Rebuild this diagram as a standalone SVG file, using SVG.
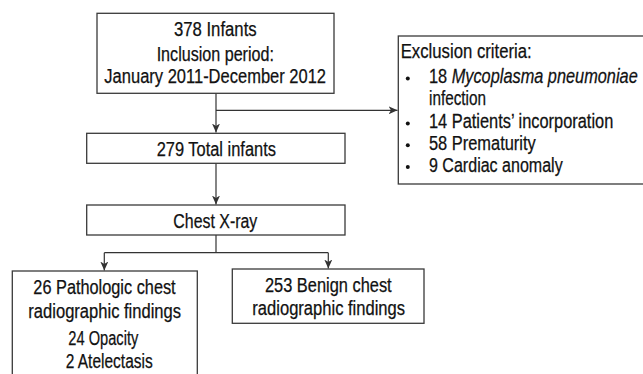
<svg xmlns="http://www.w3.org/2000/svg" width="643" height="374" viewBox="0 0 643 374">
<defs>
<style>
.box{fill:#fff;stroke:#3a3a3a;stroke-width:1.3}
.ln{fill:none;stroke:#333;stroke-width:1.2}
text{font-family:"Liberation Sans",Arial,sans-serif;font-size:19.5px;fill:#111;stroke:#111;stroke-width:0.25}
.c{text-anchor:middle}
</style>
<marker id="ah" markerUnits="userSpaceOnUse" markerWidth="10" markerHeight="8" refX="9" refY="4" orient="auto">
<path d="M0,0 L9,4 L0,8 L2.5,4 z" fill="#333"/>
</marker>
</defs>
<rect width="643" height="374" fill="#fff"/>
<g id="connectors">
<line class="ln" x1="216" y1="93.3" x2="216" y2="132.5" marker-end="url(#ah)"/>
<line class="ln" x1="216" y1="110.3" x2="397.5" y2="110.3" marker-end="url(#ah)"/>
<line class="ln" x1="216" y1="163.3" x2="216" y2="204.5" marker-end="url(#ah)"/>
<polyline class="ln" points="216,235 216,252.7"/>
<line class="ln" x1="104.3" y1="252.7" x2="328.3" y2="252.7"/>
<line class="ln" x1="104.3" y1="252.7" x2="104.3" y2="270.5" marker-end="url(#ah)"/>
<line class="ln" x1="328.3" y1="252.7" x2="328.3" y2="268.5" marker-end="url(#ah)"/>
</g>
<g id="n-infants">
<rect class="box" x="97" y="13.3" width="237" height="80"/>
<text class="c" x="215.3" y="36.3" textLength="82.7" lengthAdjust="spacingAndGlyphs">378 Infants</text>
<text class="c" x="215.3" y="60.7" textLength="117.3" lengthAdjust="spacingAndGlyphs">Inclusion period:</text>
<text class="c" x="215.2" y="82.9" textLength="221.7" lengthAdjust="spacingAndGlyphs">January 2011-December 2012</text>
</g>
<g id="n-exclusion">
<rect class="box" x="398.3" y="36" width="260" height="148"/>
<text x="400.7" y="58.3" textLength="131" lengthAdjust="spacingAndGlyphs">Exclusion criteria:</text>
<g fill="#111">
<circle cx="407.8" cy="78.6" r="2"/>
<circle cx="407.8" cy="123.6" r="2"/>
<circle cx="407.8" cy="145.3" r="2"/>
<circle cx="407.8" cy="167" r="2"/>
</g>
<text transform="translate(429 83.3) scale(0.84 1)" x="0" y="0" textLength="248.5" lengthAdjust="spacingAndGlyphs">18 <tspan font-style="italic">Mycoplasma pneumoniae</tspan></text>
<text x="429" y="104.8" textLength="57" lengthAdjust="spacingAndGlyphs">infection</text>
<text transform="translate(429 128.3) scale(0.84 1)" x="0" y="0" textLength="219.4" lengthAdjust="spacingAndGlyphs">14 Patients’ incorporation</text>
<text x="429" y="150" textLength="106.7" lengthAdjust="spacingAndGlyphs">58 Prematurity</text>
<text x="429" y="171.7" textLength="133.7" lengthAdjust="spacingAndGlyphs">9 Cardiac anomaly</text>
</g>
<g id="n-total">
<rect class="box" x="86.7" y="133.3" width="258.3" height="30"/>
<text class="c" x="216.3" y="156.2" textLength="119.3" lengthAdjust="spacingAndGlyphs">279 Total infants</text>
</g>
<g id="n-xray">
<rect class="box" x="86.7" y="205" width="258.3" height="30"/>
<text class="c" x="215.3" y="227.7" textLength="84" lengthAdjust="spacingAndGlyphs">Chest X-ray</text>
</g>
<g id="n-pathologic">
<rect class="box" x="12.3" y="271" width="185" height="115"/>
<text class="c" x="104.5" y="294.3" textLength="142.3" lengthAdjust="spacingAndGlyphs">26 Pathologic chest</text>
<text class="c" x="104.7" y="317.6" textLength="152.7" lengthAdjust="spacingAndGlyphs">radiographic findings</text>
<text x="68.3" y="345" textLength="70" lengthAdjust="spacingAndGlyphs">24 Opacity</text>
<text x="65.7" y="368.3" textLength="87" lengthAdjust="spacingAndGlyphs">2 Atelectasis</text>
</g>
<g id="n-benign">
<rect class="box" x="232.3" y="269" width="191.7" height="54.3"/>
<text class="c" x="328.3" y="291.7" textLength="126.7" lengthAdjust="spacingAndGlyphs">253 Benign chest</text>
<text class="c" x="328.7" y="315" textLength="152.7" lengthAdjust="spacingAndGlyphs">radiographic findings</text>
</g>
</svg>
